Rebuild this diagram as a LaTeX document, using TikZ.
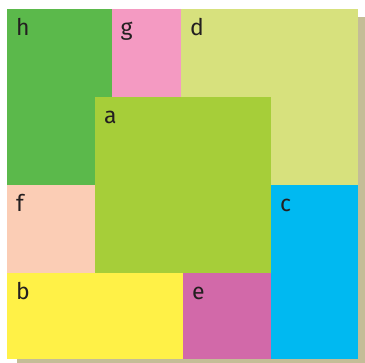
\documentclass[tikz,border=0pt]{standalone}
\usepackage{fontspec}
\setmainfont{Fira Sans}
\definecolor{shadowc}{HTML}{C4BD97}
\definecolor{hc}{HTML}{5BB94B}
\definecolor{gc}{HTML}{F49AC2}
\definecolor{dc}{HTML}{D7E17D}
\definecolor{ac}{HTML}{A6CE39}
\definecolor{fc}{HTML}{FBCDB5}
\definecolor{cc}{HTML}{00B9F1}
\definecolor{bc}{HTML}{FFF147}
\definecolor{ec}{HTML}{D269A9}
\definecolor{ink}{HTML}{231F20}
\begin{document}
\begin{tikzpicture}[x=1pt,y=-1pt,
  lbl/.style={anchor=base west,inner sep=0pt,font=\fontsize{23}{23}\selectfont,text=ink}]
\useasboundingbox (0,0) rectangle (365,363);
\fill[shadowc] (17,17) rectangle (364.5,363);
\fill[hc] (7,9) rectangle (111.5,185);
\fill[gc] (111.5,9) rectangle (181,97);
\fill[dc] (181,9) rectangle (358,185);
\fill[fc] (7,185) rectangle (95,273);
\fill[cc] (271,185) rectangle (358,359);
\fill[bc] (7,273) rectangle (183,359);
\fill[ec] (183,273) rectangle (271,359);
\fill[ac] (95,97) rectangle (271,273);
\node[lbl] (h) at (16,35.5) {h};
\node[lbl] (g) at (120.5,35.5) {g};
\node[lbl] (d) at (190,35.5) {d};
\node[lbl] (a) at (104,123.5) {a};
\node[lbl] (f) at (16,211.5) {f};
\node[lbl] (c) at (280,211.5) {c};
\node[lbl] (b) at (16,299.5) {b};
\node[lbl] (e) at (192,299.5) {e};
\end{tikzpicture}
\end{document}
